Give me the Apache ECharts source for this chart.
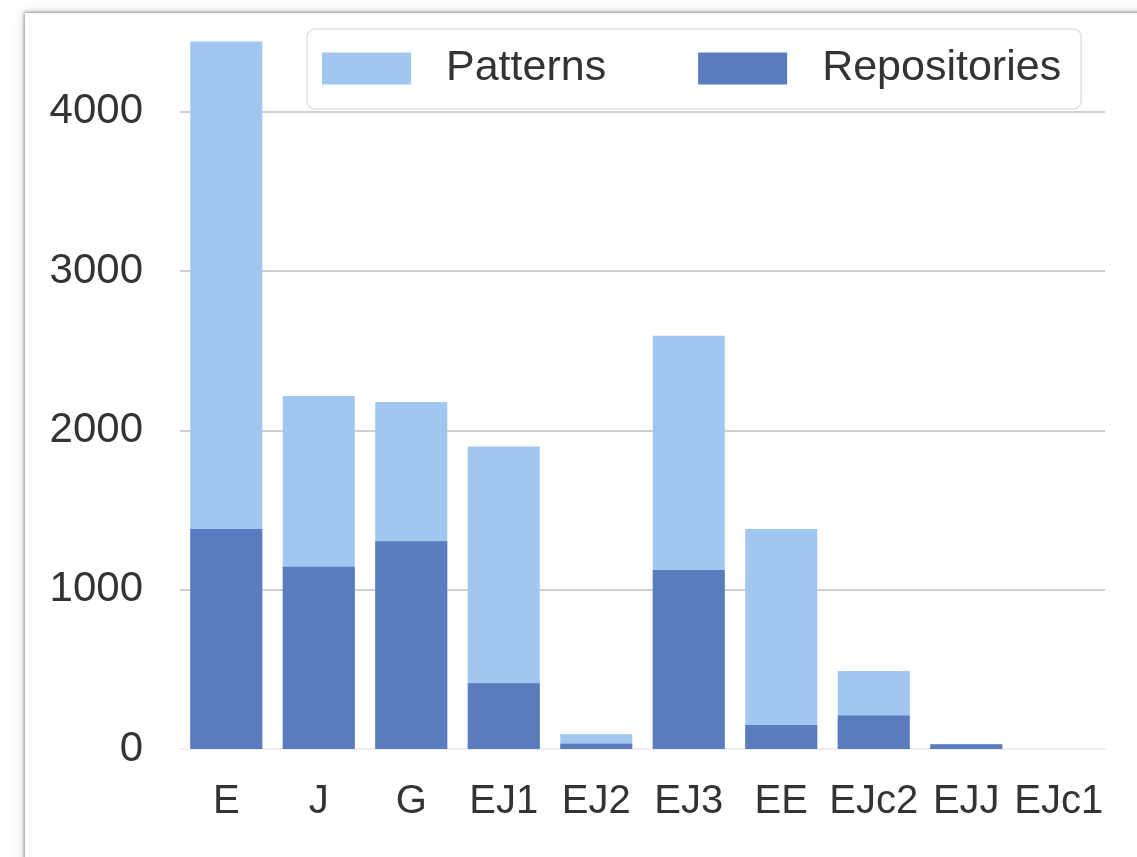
<!DOCTYPE html>
<html>
<head>
<meta charset="utf-8">
<script src="https://cdn.jsdelivr.net/npm/echarts@6/dist/echarts.min.js"></script>
<style>
  html, body { margin: 0; padding: 0; background: #ffffff; overflow: hidden; }
  #card {
    position: absolute; left: 25px; top: 13px; width: 1200px; height: 900px;
    background: #ffffff;
    box-shadow: 0 0 3px 1px rgba(0,0,0,0.35), 0 0 12px rgba(0,0,0,0.18);
  }
  #chart { position: absolute; left: 0; top: 0; width: 1137px; height: 857px; }
</style>
</head>
<body>
<div id="card"></div>
<div id="chart"></div>
<script>
// Categories along the x axis
const categories = ['E', 'J', 'G', 'EJ1', 'EJ2', 'EJ3', 'EE', 'EJc2', 'EJJ', 'EJc1'];
// Number of patterns per category
const patterns = [4440, 2216, 2178, 1898, 92, 2594, 1381, 490, 30, 0];
// Number of repositories per category
const repositories = [1380, 1144, 1304, 412, 33, 1124, 151, 211, 30, 0];
// Y axis range and tick step
const yMax = 4500;
const yStep = 1000;

const font = 'Liberation Sans, Arial, sans-serif';
const chart = echarts.init(document.getElementById('chart'), null, { renderer: 'canvas' });

chart.setOption({
  animation: false,
  backgroundColor: 'transparent',
  grid: { left: 180, right: 32, top: 32, bottom: 108, containLabel: false },
  legend: {
    data: ['Patterns', 'Repositories'],
    left: 307, top: 29,
    padding: [18, 20, 19, 15],
    itemWidth: 89, itemHeight: 32, itemGap: 92,
    backgroundColor: '#ffffff',
    borderColor: '#e2e2e2', borderWidth: 1.5, borderRadius: 8,
    icon: 'rect',
    textStyle: { fontFamily: font, fontSize: 43, color: '#333333', padding: [0, 0, 0, 30] }
  },
  xAxis: {
    type: 'category',
    data: categories,
    axisTick: { show: false },
    axisLine: { show: true, lineStyle: { color: '#eeeeee', width: 2 } },
    axisLabel: { interval: 0, fontFamily: font, fontSize: 40, color: '#333333', margin: 33 }
  },
  yAxis: {
    type: 'value',
    min: 0, max: yMax, interval: yStep,
    axisLine: { show: false },
    axisTick: { show: false },
    axisLabel: {
      fontFamily: font, fontSize: 42, color: '#333333', margin: 37,
      formatter: v => (v % yStep === 0 ? String(v) : '')
    },
    splitLine: {
      show: true, showMinLine: false, showMaxLine: false,
      lineStyle: { color: '#d0d0d0', width: 2 }
    }
  },
  series: [
    {
      name: 'Patterns', type: 'bar', data: patterns,
      barWidth: 72, barGap: '-100%',
      itemStyle: { color: '#a1c6f0' }
    },
    {
      name: 'Repositories', type: 'bar', data: repositories,
      barWidth: 72, barGap: '-100%',
      itemStyle: { color: '#5a7bbe' }
    }
  ]
});
</script>
</body>
</html>
